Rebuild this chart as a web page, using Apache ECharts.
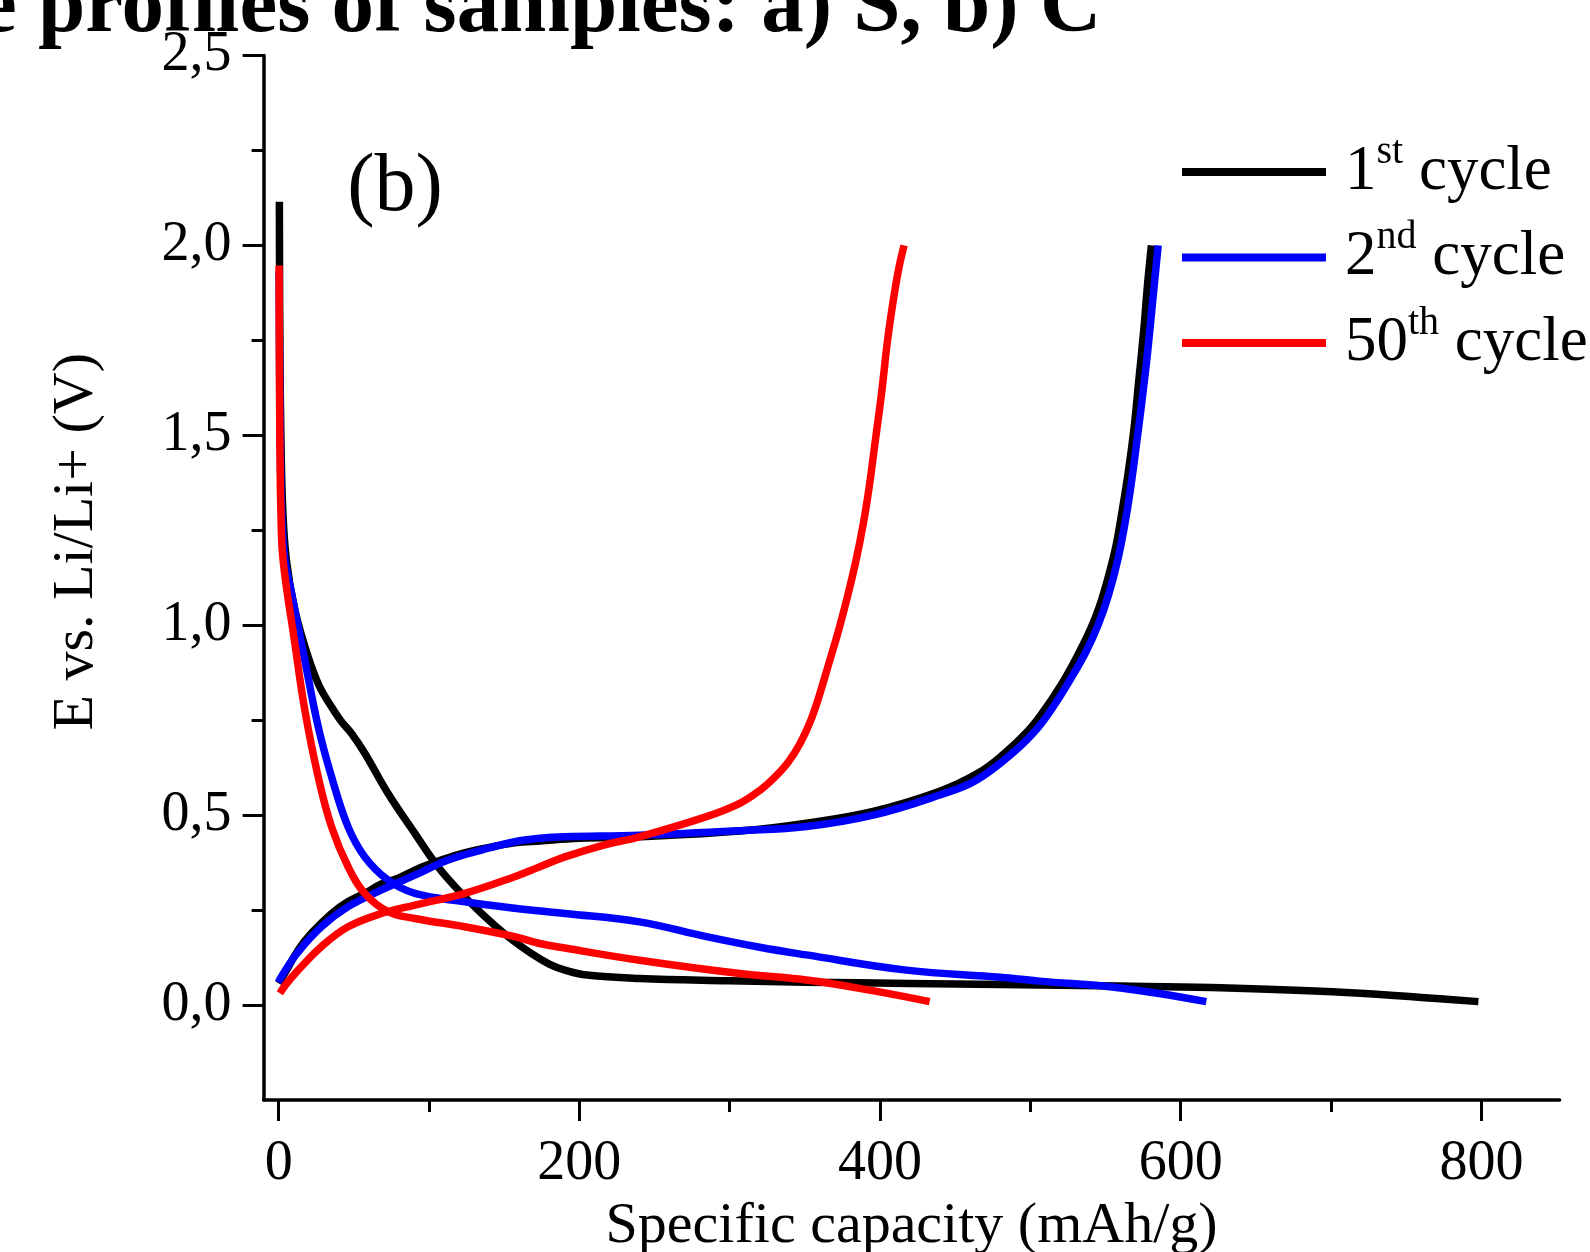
<!DOCTYPE html>
<html><head><meta charset="utf-8">
<script src="https://cdn.jsdelivr.net/npm/echarts@6/dist/echarts.min.js"></script>
<style>html,body{margin:0;padding:0;background:#fff}#c{width:1590px;height:1252px}</style>
</head><body><div id="c"></div>
<script>
const seriesNames = ['1st cycle', '2nd cycle', '50th cycle'];
const seriesColors = ['#000000', '#0000ff', '#ff0000'];
const xMajorTicks = [0, 200, 400, 600, 800];
const xMinorTicks = [100, 300, 500, 700];
const yMajorTicks = [0, 0.5, 1, 1.5, 2, 2.5];
const yMinorTicks = [0.25, 0.75, 1.25, 1.75, 2.25];
const titleText = 'e profiles of samples: a) S, b) C';
const panelLabel = '(b)';
const xName = 'Specific capacity (mAh/g)';
const yName = 'E vs. Li/Li+ (V)';

const cycle1Discharge = [[0.5,2.115],[0.6,1.95],[0.9,1.7],[1.5,1.5],[2.7,1.31],[5.2,1.17],[10.8,1.04],[19.6,0.917],[27,0.84],[35.2,0.785],[42,0.745],[48.5,0.715],[57.3,0.663],[72.8,0.557],[90.6,0.452],[106,0.364],[119.4,0.303],[135,0.241],[152.6,0.18],[168,0.136],[180,0.108],[190.4,0.092],[205,0.079],[240,0.07],[300,0.064],[351,0.06],[420,0.057],[480,0.054],[560,0.05],[620,0.046],[701,0.035],[760,0.02],[798,0.009]];
const cycle1Charge = [[0,0.057],[5,0.09],[13,0.145],[22,0.19],[35.2,0.241],[46,0.272],[57.3,0.294],[68,0.318],[79.5,0.334],[90.6,0.355],[101.7,0.373],[120,0.397],[140,0.415],[157,0.427],[173.7,0.432],[200,0.439],[240,0.443],[306.7,0.458],[351,0.479],[395.4,0.51],[439.7,0.563],[465,0.61],[482,0.66],[498,0.72],[509,0.775],[520,0.84],[530,0.91],[540,0.99],[546,1.05],[552,1.13],[557,1.21],[561,1.3],[565,1.4],[569,1.52],[572,1.64],[575.5,1.78],[578,1.9],[580.5,2.0]];
const cycle2Discharge = [[0.3,1.93],[0.6,1.7],[1.0,1.5],[2.0,1.3],[4,1.18],[8.6,1.084],[17.4,0.908],[26.3,0.733],[35.2,0.601],[46.2,0.469],[57.3,0.39],[72.8,0.329],[90.6,0.294],[123.8,0.272],[157,0.255],[190.4,0.241],[240,0.219],[284.6,0.18],[320,0.152],[351,0.132],[417.6,0.092],[480,0.073],[506,0.063],[560,0.045],[617,0.009]];
const cycle2Charge = [[-0.3,0.06],[5,0.095],[13,0.14],[28.5,0.206],[46.2,0.259],[68.4,0.303],[90.6,0.342],[112.7,0.382],[135,0.408],[157,0.43],[173.7,0.439],[190.4,0.443],[240,0.447],[306.7,0.459],[351,0.47],[395.4,0.5],[439.7,0.553],[464,0.592],[490,0.67],[505,0.73],[516,0.79],[527,0.86],[537,0.93],[545,1.0],[552,1.08],[558,1.17],[563,1.27],[567,1.37],[571,1.49],[574.5,1.6],[578,1.72],[581.5,1.86],[585,2.0]];
const cycle50Discharge = [[0.3,1.947],[0.5,1.7],[0.8,1.5],[1.5,1.3],[3,1.17],[10.8,0.952],[17.4,0.777],[26.3,0.601],[35.2,0.469],[46.2,0.364],[57.3,0.294],[72.8,0.246],[90.6,0.228],[123.8,0.206],[157,0.18],[173.7,0.162],[190.4,0.15],[240,0.118],[306.7,0.083],[351,0.066],[395,0.038],[433,0.009]];
const cycle50Charge = [[0.8,0.031],[5,0.055],[13,0.092],[28.5,0.154],[46.2,0.206],[68.4,0.241],[90.6,0.263],[123.8,0.294],[157,0.338],[173.7,0.364],[190.4,0.39],[215,0.42],[240,0.443],[284.6,0.496],[306.7,0.531],[320,0.565],[330,0.6],[339,0.64],[347,0.69],[354,0.75],[360,0.82],[366,0.9],[372,0.98],[378,1.07],[384,1.17],[389,1.27],[393,1.37],[397,1.49],[401,1.61],[405,1.75],[409,1.86],[412.5,1.94],[416,2.0]];

const FONT = '"Liberation Serif", "Times New Roman", serif';
const curves = [
  [0, cycle1Discharge], [0, cycle1Charge],
  [1, cycle2Discharge], [1, cycle2Charge],
  [2, cycle50Discharge], [2, cycle50Charge]
];

const chart = echarts.init(document.getElementById('c'), null, {renderer: 'canvas'});
const axisLineStyle = {color: '#000', width: 3.5};
const tickStyle = {color: '#000', width: 3};
const fmtY = v => v.toFixed(1).replace('.', ',');

chart.setOption({
  animation: false,
  backgroundColor: '#fff',
  grid: {left: 263.6, right: 30.4, top: 55.5, bottom: 152, containLabel: false, outerBoundsMode: 'none'},
  xAxis: [{
    type: 'value', min: -10, max: 852, position: 'bottom',
    axisLine: {show: true, onZero: false, lineStyle: axisLineStyle},
    axisTick: {show: true, customValues: xMajorTicks, length: 21, inside: false, lineStyle: tickStyle},
    axisLabel: {show: true, customValues: xMajorTicks, margin: 36, fontSize: 56, fontFamily: FONT, color: '#000'},
    splitLine: {show: false},
    name: xName, nameLocation: 'middle', nameGap: 98,
    nameTextStyle: {fontSize: 58, fontFamily: FONT, color: '#000'}
  }, {
    type: 'value', min: -10, max: 852, position: 'bottom', offset: 0,
    axisLine: {show: false, onZero: false},
    axisTick: {show: true, customValues: xMinorTicks, length: 12, inside: false, lineStyle: tickStyle},
    axisLabel: {show: false},
    splitLine: {show: false}
  }],
  yAxis: [{
    type: 'value', min: -0.25, max: 2.5, position: 'left',
    axisLine: {show: true, onZero: false, lineStyle: axisLineStyle},
    axisTick: {show: true, customValues: yMajorTicks, length: 21, inside: false, lineStyle: tickStyle},
    axisLabel: {show: true, customValues: yMajorTicks, margin: 32, fontSize: 56, fontFamily: FONT, color: '#000', formatter: fmtY},
    splitLine: {show: false},
    name: yName, nameLocation: 'middle', nameGap: 158, nameRotate: 90,
    nameTextStyle: {fontSize: 58, fontFamily: FONT, color: '#000', padding: [0, 0, 0, 72]}
  }, {
    type: 'value', min: -0.25, max: 2.5, position: 'left', offset: 0,
    axisLine: {show: false, onZero: false},
    axisTick: {show: true, customValues: yMinorTicks, length: 12, inside: false, lineStyle: tickStyle},
    axisLabel: {show: false},
    splitLine: {show: false}
  }],
  legend: {
    orient: 'vertical', left: 1182, top: 132, padding: 0, itemGap: 14,
    itemWidth: 144, itemHeight: 8, icon: 'rect', selectedMode: false,
    data: seriesNames,
    formatter: name => name.replace(/^(\d+)(st|nd|rd|th) (.*)$/, '{n|$1}{s|$2}{n| $3}'),
    textStyle: {
      fontFamily: FONT, color: '#000', padding: [0, 0, 0, 14],
      rich: {
        n: {fontSize: 63, lineHeight: 80, fontFamily: FONT, color: '#000'},
        s: {fontSize: 40, lineHeight: 40, verticalAlign: 'top', fontFamily: FONT, color: '#000'}
      }
    }
  },
  graphic: [
    {type: 'text', x: -21, y: 9, silent: true,
     style: {text: titleText, fontSize: 85, fontWeight: 'bold', fontFamily: FONT, fill: '#000', align: 'left', verticalAlign: 'middle'}},
    {type: 'text', x: 395, y: 188, silent: true,
     style: {text: panelLabel, fontSize: 82, fontFamily: FONT, fill: '#000', align: 'center', verticalAlign: 'middle'}}
  ],
  series: curves.map(([ci, data]) => ({
    type: 'line', name: seriesNames[ci], data: data,
    xAxisIndex: 0, yAxisIndex: 0,
    showSymbol: false, symbol: 'none', smooth: 0.4,
    color: seriesColors[ci],
    itemStyle: {color: seriesColors[ci]},
    lineStyle: {color: seriesColors[ci], width: 7.5, cap: 'butt', join: 'round'},
    emphasis: {disabled: true}
  }))
});
</script></body></html>
